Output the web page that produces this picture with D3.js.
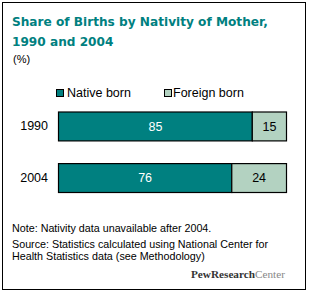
<!DOCTYPE html>
<html><head><meta charset="utf-8">
<script src="https://cdn.jsdelivr.net/npm/d3@7"></script>
<style>html,body{margin:0;padding:0;background:#fff;}svg{display:block;}</style>
</head><body>
<script>
const years = ["1990", "2004"];
const nativeBorn = [85, 76];
const foreignBorn = [15, 24];
const seriesNames = ["Native born", "Foreign born"];
const titleLines = ["Share of Births by Nativity of Mother,", "1990 and 2004"];
const unitLabel = "(%)";
const noteLines = ["Note: Nativity data unavailable after 2004.",
  "Source: Statistics calculated using National Center for",
  "Health Statistics data (see Methodology)"];

const W = 310, H = 294;
const teal = "#008080", light = "#B3D2C1";
const bodyFont = "'Liberation Sans', Arial, sans-serif";

const svg = d3.select("body").append("svg").attr("width", W).attr("height", H);
svg.append("rect").attr("x", 0).attr("y", 0).attr("width", W).attr("height", H).attr("fill", "#fff");
svg.append("rect").attr("x", 2.5).attr("y", 2.5).attr("width", 303).attr("height", 287)
  .attr("fill", "none").attr("stroke", "#000").attr("stroke-width", 1);

function fit(sel, target) {
  const n = sel.node();
  const w = n.getComputedTextLength();
  const fs = parseFloat(sel.attr("font-size"));
  sel.attr("font-size", (fs * target / w).toFixed(2));
}

// Title
const t1 = svg.append("text").attr("x", 12).attr("y", 26).text(titleLines[0])
  .attr("font-family", "'DejaVu Sans', Verdana, sans-serif").attr("font-weight", "bold")
  .attr("font-size", 14).attr("fill", teal);
fit(t1, 256);
const t2 = svg.append("text").attr("x", 12).attr("y", 46).text(titleLines[1])
  .attr("font-family", "'DejaVu Sans', Verdana, sans-serif").attr("font-weight", "bold")
  .attr("font-size", t1.attr("font-size")).attr("fill", teal);
svg.append("text").attr("x", 13).attr("y", 63).text(unitLabel)
  .attr("font-family", bodyFont).attr("font-size", 11).attr("fill", "#000");

// Scales
const x = d3.scaleLinear().domain([0, 100]).range([58.5, 286.5]);
const y = d3.scaleBand().domain(years).range([112, 192.5]).paddingInner(0.44);

const rows = years.map((yr, i) => ({year: yr, values: [nativeBorn[i], foreignBorn[i]]}));
const colors = [teal, light];
const textColors = ["#fff", "#000"];

const g = svg.append("g");
rows.forEach(r => {
  let acc = 0;
  r.values.forEach((v, j) => {
    const x0 = x(acc), x1 = x(acc + v);
    g.append("rect").attr("x", x0).attr("y", y(r.year)).attr("width", x1 - x0)
      .attr("height", y.bandwidth()).attr("fill", colors[j])
      .attr("stroke", "#000").attr("stroke-width", 1.2);
    g.append("text").attr("x", (x0 + x1) / 2).attr("y", y(r.year) + y.bandwidth() / 2)
      .attr("dy", "0.35em").attr("text-anchor", "middle")
      .attr("font-family", bodyFont).attr("font-size", 12.5).attr("fill", textColors[j])
      .text(v);
    acc += v;
  });
});

// Year axis labels
const yAxis = d3.axisLeft(y).tickSize(0).tickPadding(0);
const ya = svg.append("g").attr("transform", "translate(48,0)").call(yAxis);
ya.select(".domain").remove();
ya.selectAll("text").attr("font-family", bodyFont).attr("font-size", 12.5).attr("fill", "#000");

// Legend
const legendX = [56, 164];
const legendTextX = [67, 173];
seriesNames.forEach((s, j) => {
  svg.append("rect").attr("x", legendX[j] + 0.5).attr("y", 89.5).attr("width", 7).attr("height", 7)
    .attr("fill", colors[j]).attr("stroke", "#000").attr("stroke-width", 1);
  svg.append("text").attr("x", legendTextX[j]).attr("y", 97).text(s)
    .attr("font-family", bodyFont).attr("font-size", 12.5).attr("fill", "#000");
});

// Notes
const noteY = [232, 248, 259.5];
const noteTexts = noteLines.map((l, i) => svg.append("text").attr("x", 12).attr("y", noteY[i]).text(l)
    .attr("font-family", bodyFont).attr("font-size", 11).attr("fill", "#000"));
fit(noteTexts[1], 256);
noteTexts.forEach(t => t.attr("font-size", noteTexts[1].attr("font-size")));

// Logo
const logo = svg.append("text").attr("x", 191).attr("y", 277.5)
  .attr("font-family", "'Liberation Serif', 'Times New Roman', serif").attr("font-size", 12);
logo.append("tspan").attr("fill", "#333").attr("font-weight", "bold").text("PewResearch");
logo.append("tspan").attr("fill", "#888").text("Center");
fit(logo, 94);
</script>
</body></html>
